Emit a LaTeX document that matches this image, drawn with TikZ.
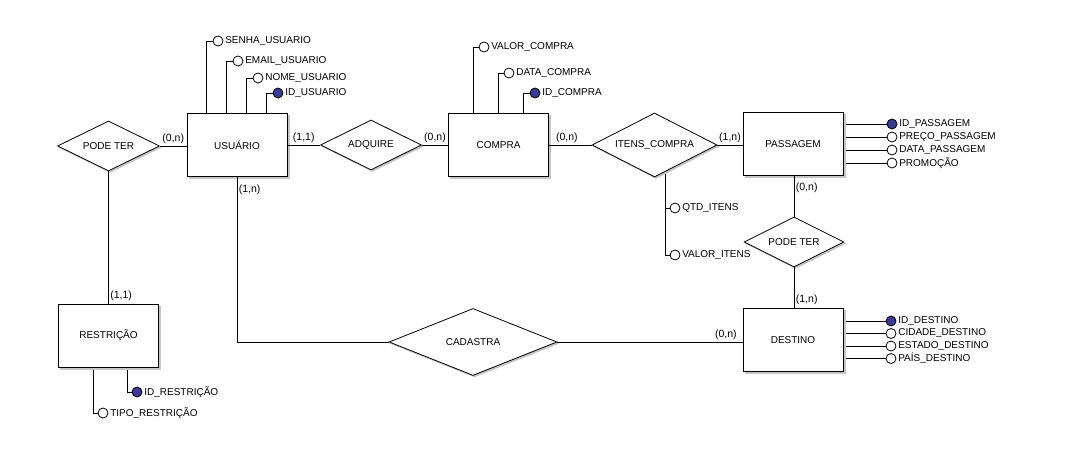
\documentclass[tikz,border=0pt]{standalone}
\usepackage{fontspec}
\setmainfont{Liberation Sans}
\usetikzlibrary{positioning, shapes.geometric, shadows, backgrounds}
\definecolor{keyblue}{RGB}{58,58,148}
\tikzset{%
	entity/.style={draw, rectangle, minimum width=100pt, minimum height=63pt,%
		inner sep=0pt, fill=white, copy shadow={shadow xshift=2pt, shadow yshift=-2pt, draw=gray!45, fill=gray!45}},
	rel/.style={draw, diamond, aspect=2, inner sep=0pt, fill=white,%
		copy shadow={shadow xshift=1.5pt, shadow yshift=-1.5pt, draw=gray!45, fill=gray!45}},
	attr/.style={draw, circle, minimum size=10pt, inner sep=0pt, fill=white,%
		label={[label distance=0.5pt, inner sep=1pt, font=\fontsize{10}{12}\selectfont]right:#1}},
	keyattr/.style={attr={#1}, fill=keyblue},
	connector/.style={line width=0.8pt},
	card/.style={inner sep=1.5pt, font=\fontsize{10.5}{12}\selectfont}
}
\begin{document}
\begin{tikzpicture}[x=1pt, y=-1pt, font=\fontsize{10}{12}\selectfont, line width=0.8pt]
	\useasboundingbox (0,0) rectangle (1089,465);

	% entities
	\node[entity] (usu) at (237,145) {USUÁRIO};
	\node[entity] (com) at (498.5,145) {COMPRA};
	\node[entity] (pas) at (793,144) {PASSAGEM};
	\node[entity] (des) at (793,340) {DESTINO};
	\node[entity] (res) at (108.5,335.5) {RESTRIÇÃO};

	% relationships
	\node[rel, minimum width=102pt, minimum height=50pt] (pt1) at (108.5,146) {PODE TER};
	\node[rel, minimum width=101pt, minimum height=50pt] (adq) at (371,145) {ADQUIRE};
	\node[rel, minimum width=125pt, minimum height=64pt] (ic) at (654.5,145) {ITENS\_COMPRA};
	\node[rel, minimum width=100pt, minimum height=50pt] (pt2) at (794,242) {PODE TER};
	\node[rel, minimum width=168pt, minimum height=67pt] (cad) at (473,342) {CADASTRA};

	% attributes
	\node[attr={SENHA\_USUARIO}] (usu1) at (218,41) {};
	\node[attr={EMAIL\_USUARIO}] (usu2) at (238,61) {};
	\node[attr={NOME\_USUARIO}] (usu3) at (258,78) {};
	\node[keyattr={ID\_USUARIO}] (usu4) at (278,93) {};

	\node[attr={VALOR\_COMPRA}] (com1) at (484,47) {};
	\node[attr={DATA\_COMPRA}] (com2) at (509,73) {};
	\node[keyattr={ID\_COMPRA}] (com3) at (535,93) {};

	\node[keyattr={ID\_PASSAGEM}] (pas1) at (892,124) {};
	\node[attr={PREÇO\_PASSAGEM}] (pas2) at (892,137) {};
	\node[attr={DATA\_PASSAGEM}] (pas3) at (892,150) {};
	\node[attr={PROMOÇÃO}] (pas4) at (892,163) {};

	\node[attr={QTD\_ITENS}] (ic1) at (675,208) {};
	\node[attr={VALOR\_ITENS}] (ic2) at (675,255) {};

	\node[keyattr={ID\_DESTINO}] (des1) at (891,321) {};
	\node[attr={CIDADE\_DESTINO}] (des2) at (891,333.5) {};
	\node[attr={ESTADO\_DESTINO}] (des3) at (891,346) {};
	\node[attr={PAÍS\_DESTINO}] (des4) at (891,358.5) {};

	\node[keyattr={ID\_RESTRIÇÃO}] (res1) at (137,392) {};
	\node[attr={TIPO\_RESTRIÇÃO}] (res2) at (103,413) {};

	\begin{scope}[on background layer]
		% attribute links
		\draw[connector] ([xshift=20pt]usu.north west) |- (usu1.west);
		\draw[connector] ([xshift=40pt]usu.north west) |- (usu2.west);
		\draw[connector] ([xshift=60pt]usu.north west) |- (usu3.west);
		\draw[connector] ([xshift=80pt]usu.north west) |- (usu4.west);
		\draw[connector] ([xshift=25pt]com.north west) |- (com1.west);
		\draw[connector] ([xshift=50pt]com.north west) |- (com2.west);
		\draw[connector] ([xshift=75pt]com.north west) |- (com3.west);
		\foreach \i in {1,...,4}{
			\draw[connector] (pas.east |- pas\i) -- (pas\i.west);
			\draw[connector] (des.east |- des\i) -- (des\i.west);
		}
		\draw[connector] ([xshift=10.5pt]ic.center) |- (ic2.west);
		\draw[connector] (ic1.west) -| ([xshift=10.5pt]ic.center);
		\draw[connector] ([xshift=69pt]res.south west) |- (res1.west);
		\draw[connector] ([xshift=35pt]res.south west) |- (res2.west);
	\end{scope}

	% relationship links
	\draw[connector] (pt1) to node[card, above]{(0,n)} (usu.west |- pt1);
	\draw[connector] (pt1) to node[card, right, pos=0.94]{(1,1)} (res);
	\draw[connector] (usu) to node[card, above]{(1,1)} (adq);
	\draw[connector] (adq) to node[card, above]{(0,n)} (com);
	\draw[connector] (com) to node[card, above, pos=0.42]{(0,n)} (ic);
	\draw[connector] (ic) to node[card, above]{(1,n)} (pas.west |- ic);
	\draw[connector] (pas.south -| pt2) to node[card, right, pos=0.3]{(0,n)} (pt2);
	\draw[connector] (pt2) to node[card, right, pos=0.79]{(1,n)} (des.north -| pt2);
	\draw[connector] (usu.south) |- node[card, right, pos=0.04]{(1,n)} (cad.west);
	\draw[connector] (cad) to node[card, above, pos=0.91]{(0,n)} (des.west |- cad);
\end{tikzpicture}
\end{document}
